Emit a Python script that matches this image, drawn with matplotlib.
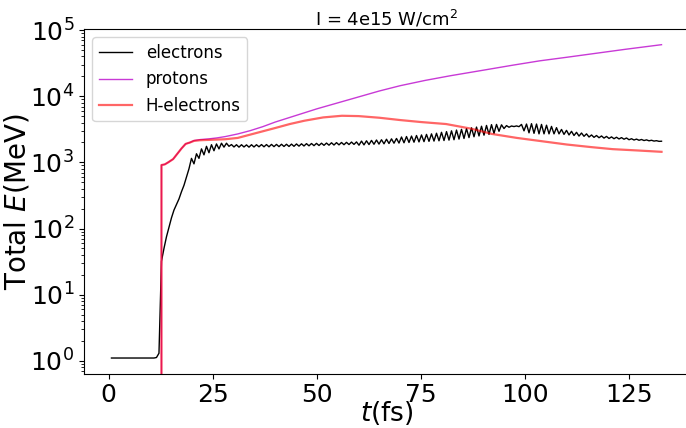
import numpy as np
import matplotlib
matplotlib.use("Agg")
import matplotlib.pyplot as plt

# ---------------- data ----------------
# electrons: sampled every 0.6 fs starting at 0.7 fs
t_electrons = np.arange(0.7, 132.75, 0.6)
e_electrons = [
    1.1, 1.1, 1.1, 1.1, 1.1, 1.1, 1.1, 1.1, 1.1, 1.1, 1.1, 1.1, 1.1, 1.1, 1.1, 1.1, 1.1, 1.1,
    1.12, 1.3, 32, 50, 75, 105, 145, 190, 230, 280, 360, 450, 600, 800,
    1150, 950, 1350, 1150, 1600, 1300, 1750, 1400, 1850, 1500, 1900, 1600, 1950, 1700, 1950, 1750,
    1860, 1710, 1850, 1700, 1850, 1710, 1840, 1700, 1850, 1710, 1850, 1720, 1860, 1720,
    1860, 1720, 1870, 1730, 1870, 1730, 1880, 1740, 1880, 1740, 1890, 1750,
    1900, 1760, 1910, 1770, 1920, 1780, 1930, 1790, 1940, 1800, 1950, 1810, 1960, 1820,
    1980, 1830, 1990, 1840, 2000, 1850, 2010, 1860, 2030, 1870, 2040,
    1820, 2100, 1840, 2120, 1860, 2150, 1880, 2180, 1890, 2200, 1910, 2240, 1930, 2270,
    1950, 2300, 1960,
    2420, 1980, 2460, 2000, 2500, 2020, 2550, 2040, 2600, 2060, 2650, 2080, 2700, 2100,
    2760, 2120,
    2850, 2140, 2920, 2170, 3000, 2200, 3080, 2250, 3160, 2300, 3240, 2370, 3330, 2440,
    3420, 2510, 3520, 2580, 3620, 2650, 3720,
    2750, 3750, 2950, 3700, 3250, 3600, 3400, 3550, 3480, 3560, 3470,
    3750, 3000, 3800, 2800, 3850, 2750, 3800, 2700, 3750, 2700, 3650, 2700, 3500, 2700, 3350,
    2700, 3150, 2650, 3050, 2600, 2950, 2550, 2850, 2500, 2780, 2480, 2700,
    2420, 2600, 2390, 2550, 2360, 2510, 2330, 2470, 2300, 2430, 2280, 2400, 2260, 2370,
    2240, 2340,
    2200, 2280, 2180, 2250, 2160, 2220, 2140, 2190, 2120, 2160, 2100, 2130, 2080, 2090,
]

t_protons = [0.7, 12.1, 12.7, 13.5, 14.3, 15.5, 16.5, 17.5, 18.5, 19.5, 20.5, 22, 24, 26, 28,
             31, 34, 37, 40, 43.5, 47, 50, 55, 60, 65, 70, 76, 82, 90, 97, 103.5, 110, 117,
             124, 132.7]
e_protons = [0, 0, 912, 933, 1000, 1122, 1349, 1622, 1905, 1995, 2138, 2213, 2265, 2344, 2455,
             2692, 3020, 3467, 4074, 4786, 5623, 6457, 7943, 9772, 12023, 14454, 17378, 20417,
             24831, 29512, 34356, 38905, 44668, 51286, 60256]

t_helectrons = [0.7, 12.1, 12.7, 13.5, 14.3, 15.5, 16.5, 17.5, 18.5, 19.5, 20.5, 22, 24, 26, 28,
                31, 34, 37, 40, 43.5, 47, 51.5, 56, 60, 65, 70, 75, 81, 87, 92, 98, 104, 110,
                116, 121, 127, 132.7]
e_helectrons = [0, 0, 912, 933, 1000, 1122, 1349, 1622, 1905, 1995, 2113, 2163, 2188, 2213, 2239,
                2344, 2630, 2951, 3311, 3802, 4266, 4786, 5070, 5012, 4732, 4365, 4074, 3802,
                3236, 2692, 2344, 2089, 1862, 1698, 1585, 1514, 1445]

labels = ["electrons", "protons", "H-electrons"]
title = "I = 4e15 W/cm$^2$"

# ---------------- figure ----------------
fig = plt.figure(figsize=(6.86, 4.28), dpi=100)
ax = fig.add_axes([0.1224, 0.1269, 0.882, 0.8053])

ax.plot(t_electrons, e_electrons, color="black", lw=1.0, label=labels[0])
ax.plot(t_protons, e_protons, color="#c83ad6", lw=1.0, label=labels[1])
ax.plot(t_helectrons, e_helectrons, color="red", lw=1.6, alpha=0.6, label=labels[2])

ax.set_yscale("log")
ax.set_xticks([0, 25, 50, 75, 100, 125])
ax.tick_params(axis="both", which="major", labelsize=18)
ax.set_xlabel("$t$(fs)", fontsize=19)
ax.set_ylabel("Total $E$(MeV)", fontsize=20)
ax.xaxis.set_label_coords(0.5, -0.072)
ax.yaxis.set_label_coords(-0.087, 0.5)
ax.set_title(title, fontsize=13, pad=0.5)
ax.legend(loc="upper left", fontsize=12)

fig.savefig("out.png", dpi=100)
